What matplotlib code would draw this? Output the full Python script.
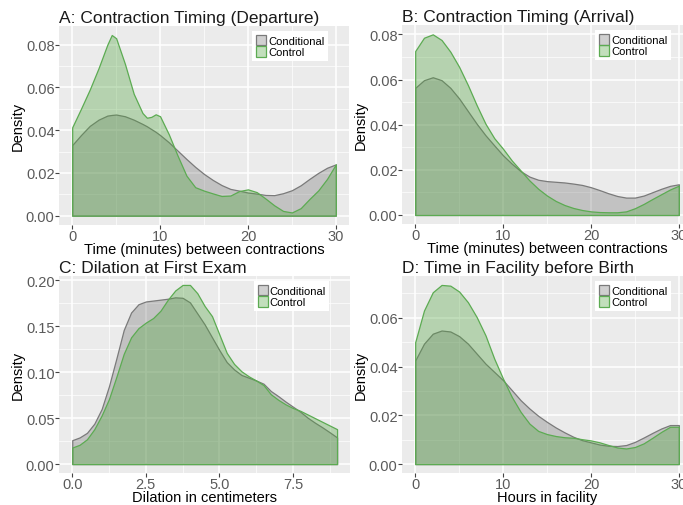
"""Density plots of contraction timing, dilation and time in facility (Conditional vs Control)."""

import matplotlib
matplotlib.use("Agg")
import matplotlib.pyplot as plt
from matplotlib.ticker import MultipleLocator, FormatStrFormatter

plt.rcParams["font.family"] = ["Liberation Sans", "DejaVu Sans"]

GROUPS = ["Conditional", "Control"]

# A: contraction timing at departure (minutes)
TIME_A = [0, 1, 2, 3, 4, 4.5, 5, 6, 7, 8, 8.5, 9, 9.5, 10, 11, 12, 13, 14, 15,
          16, 17, 18, 19, 20, 21, 22, 23, 24, 25, 26, 27, 28, 29, 30]
COND_A = [0.0330, 0.0377, 0.0420, 0.0449, 0.0468, 0.0471, 0.0473, 0.0465, 0.0449,
          0.0429, 0.0418, 0.0405, 0.0392, 0.0377, 0.0343, 0.0304, 0.0265, 0.0228,
          0.0195, 0.0167, 0.0143, 0.0125, 0.0117, 0.0108, 0.0103, 0.0097, 0.0096,
          0.0105, 0.0119, 0.0142, 0.0172, 0.0200, 0.0224, 0.0240]
CTRL_A = [0.0413, 0.0500, 0.0590, 0.0690, 0.0800, 0.0845, 0.0830, 0.0710, 0.0570,
          0.0480, 0.0458, 0.0462, 0.0474, 0.0465, 0.0380, 0.0280, 0.0187, 0.0133,
          0.0117, 0.0104, 0.0092, 0.0094, 0.0115, 0.0123, 0.0110, 0.0080, 0.0048,
          0.0022, 0.0015, 0.0035, 0.0078, 0.0118, 0.0172, 0.0240]

# B: contraction timing at arrival (minutes)
TIME_B = list(range(0, 31))
COND_B = [0.0563, 0.0597, 0.0610, 0.0597, 0.0563, 0.0516, 0.0460, 0.0404, 0.0353,
          0.0308, 0.0264, 0.0227, 0.0194, 0.0170, 0.0156, 0.0150, 0.0147, 0.0144,
          0.0139, 0.0133, 0.0123, 0.0110, 0.0096, 0.0084, 0.0077, 0.0077, 0.0086,
          0.0101, 0.0116, 0.0129, 0.0136]
CTRL_B = [0.0726, 0.0785, 0.0800, 0.0775, 0.0723, 0.0656, 0.0575, 0.0486, 0.0404,
          0.0340, 0.0293, 0.0241, 0.0197, 0.0153, 0.0116, 0.0086, 0.0062, 0.0044,
          0.0031, 0.0022, 0.0016, 0.0013, 0.0012, 0.0012, 0.0016, 0.0030, 0.0049,
          0.0071, 0.0092, 0.0113, 0.0130]

# C: dilation at first exam (cm)
DIL_C = [0, 0.25, 0.5, 0.75, 1, 1.25, 1.5, 1.75, 2, 2.25, 2.5, 2.75, 3, 3.25, 3.5,
         3.75, 4, 4.25, 4.5, 4.75, 5, 5.25, 5.5, 5.75, 6, 6.25, 6.5, 6.75, 7, 7.25,
         7.5, 7.75, 8, 8.25, 8.5, 8.75, 9]
COND_C = [0.026, 0.029, 0.034, 0.044, 0.060, 0.085, 0.115, 0.146, 0.165, 0.174,
          0.177, 0.178, 0.179, 0.180, 0.1815, 0.181, 0.176, 0.164, 0.152, 0.138,
          0.124, 0.111, 0.103, 0.097, 0.094, 0.091, 0.0875, 0.0795, 0.074, 0.068,
          0.0625, 0.057, 0.0505, 0.045, 0.040, 0.0346, 0.029]
CTRL_C = [0.018, 0.021, 0.027, 0.038, 0.053, 0.071, 0.095, 0.120, 0.138, 0.148,
          0.154, 0.159, 0.167, 0.179, 0.189, 0.195, 0.195, 0.186, 0.172, 0.161,
          0.141, 0.121, 0.109, 0.101, 0.0955, 0.091, 0.086, 0.076, 0.070, 0.065,
          0.061, 0.058, 0.054, 0.050, 0.046, 0.042, 0.038]

# D: hours in facility before birth
HOURS_D = list(range(0, 31))
COND_D = [0.0425, 0.0494, 0.0535, 0.0548, 0.0544, 0.0525, 0.0494, 0.0453, 0.0412,
          0.0378, 0.0344, 0.0303, 0.0262, 0.0228, 0.0198, 0.0173, 0.0150, 0.0130,
          0.0112, 0.0098, 0.0089, 0.0080, 0.0075, 0.0074, 0.0078, 0.0091, 0.0109,
          0.0128, 0.0146, 0.0160, 0.0160]
CTRL_D = [0.0500, 0.0630, 0.0705, 0.0735, 0.0732, 0.0708, 0.0664, 0.0603, 0.0528,
          0.0432, 0.0350, 0.0275, 0.0214, 0.0166, 0.0136, 0.0123, 0.0115, 0.0110,
          0.0108, 0.0102, 0.0097, 0.0089, 0.0078, 0.0068, 0.0064, 0.0070, 0.0085,
          0.0108, 0.0132, 0.0153, 0.0153]

TITLES = ["A: Contraction Timing (Departure)", "B: Contraction Timing (Arrival)",
          "C: Dilation at First Exam", "D: Time in Facility before Birth"]
XLABELS = ["Time (minutes) between contractions", "Time (minutes) between contractions",
           "Dilation in centimeters", "Hours in facility"]

BG = "#EBEBEB"
FILLS = [(0.40, 0.40, 0.40, 0.30), (0.32, 0.65, 0.25, 0.35)]
EDGES = ["#7a7a7a", "#5cab52"]


def draw_panel(ax, x, cond, ctrl, title, xlabel, xstep, ystep, xfmt, yfmt):
    ax.set_facecolor(BG)
    for vals, fc, ec, name in zip([cond, ctrl], FILLS, EDGES, GROUPS):
        ax.fill_between(x, 0, vals, facecolor=fc, edgecolor=ec, linewidth=0.9,
                        label=name, zorder=3)
    xr = x[-1] - x[0]
    ymax = max(max(cond), max(ctrl))
    ax.set_xlim(x[0] - 0.05 * xr, x[-1] + 0.05 * xr)
    ax.set_ylim(-0.05 * ymax, 1.05 * ymax)
    ax.xaxis.set_major_locator(MultipleLocator(xstep))
    ax.xaxis.set_minor_locator(MultipleLocator(xstep / 2))
    ax.yaxis.set_major_locator(MultipleLocator(ystep))
    ax.yaxis.set_minor_locator(MultipleLocator(ystep / 2))
    ax.xaxis.set_major_formatter(FormatStrFormatter(xfmt))
    ax.yaxis.set_major_formatter(FormatStrFormatter(yfmt))
    ax.grid(which="major", color="white", linewidth=1.1, zorder=0)
    ax.grid(which="minor", color="white", linewidth=0.5, zorder=0)
    ax.set_axisbelow(True)
    for s in ax.spines.values():
        s.set_visible(False)
    ax.tick_params(which="major", length=2.7, width=0.8, color="#444444",
                   labelcolor="#5a5a5a", labelsize=10.5, pad=0.5)
    ax.tick_params(which="minor", length=0)
    ax.set_title(title, loc="left", fontsize=12.5, color="#1a1a1a", pad=3)
    ax.set_xlabel(xlabel, fontsize=10.5, labelpad=-0.8)
    ax.set_ylabel("Density", fontsize=10.5, labelpad=0.5)
    ax.legend(loc="upper right", bbox_to_anchor=(0.928, 0.975), frameon=True,
              facecolor="white", edgecolor="none", fancybox=False, framealpha=1,
              fontsize=8.0, handlelength=0.9, handleheight=1.1, handletextpad=0.15,
              labelspacing=0.0, borderpad=0.35, borderaxespad=0)


fig = plt.figure(figsize=(6.83, 5.06), dpi=100)
ax_a = fig.add_axes([0.0864, 0.554, 0.4246, 0.3927])
ax_b = fig.add_axes([0.5886, 0.5553, 0.4246, 0.3927])
ax_c = fig.add_axes([0.0864, 0.0632, 0.4265, 0.3894])
ax_d = fig.add_axes([0.5886, 0.0632, 0.4246, 0.3894])

draw_panel(ax_a, TIME_A, COND_A, CTRL_A, TITLES[0], XLABELS[0], 10, 0.02, "%d", "%.2f")
draw_panel(ax_b, TIME_B, COND_B, CTRL_B, TITLES[1], XLABELS[1], 10, 0.02, "%d", "%.2f")
draw_panel(ax_c, DIL_C, COND_C, CTRL_C, TITLES[2], XLABELS[2], 2.5, 0.05, "%.1f", "%.2f")
draw_panel(ax_d, HOURS_D, COND_D, CTRL_D, TITLES[3], XLABELS[3], 10, 0.02, "%d", "%.2f")

fig.savefig("out.png", dpi=100)
